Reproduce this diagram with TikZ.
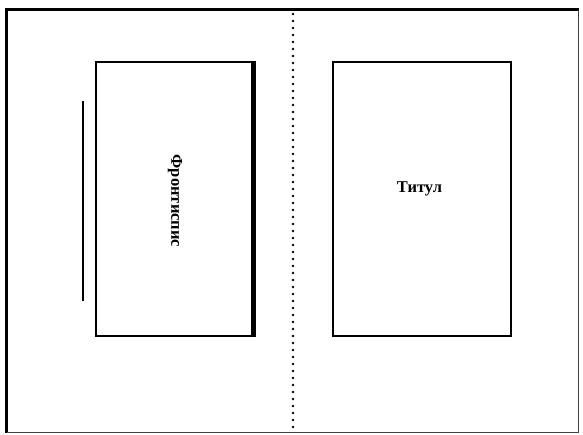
\documentclass[tikz,border=0pt]{standalone}
\usepackage{fontspec}
\setmainfont{Liberation Serif}
\begin{document}
\begin{tikzpicture}[x=1pt,y=-1pt,
  pagebox/.style={draw=black, line width=2.6pt, minimum width=#1, minimum height=274pt, inner sep=0pt},
  frameheavy/.style={line width=3pt, black},
  framelight/.style={line width=1.3pt, black!75},
  lbl/.style={font=\fontsize{16.5}{18}\selectfont\bfseries, inner sep=0pt}]
\useasboundingbox (0,0) rectangle (583,435);
% outer frame
\coordinate (tl) at (6.5,10);
\coordinate (tr) at (578.5,10);
\coordinate (bl) at (6.5,432.5);
\coordinate (br) at (578.5,432.5);
\draw[frameheavy] ([xshift=-1.5pt]tl) -- (tr);
\draw[frameheavy] ([yshift=-1.5pt]tl) -- (bl);
\draw[framelight] (tr) -- (br);
\draw[framelight] (bl) -- (br);
% fold line
\coordinate (ft) at (293,14);
\coordinate (fb) at (293,433);
\draw[line width=2.9pt, line cap=round, dash pattern=on 0pt off 7pt] (ft) -- (fb);
% pages
\node[pagebox=157pt] (front) at (174.5,199) {};
\draw[line width=4.5pt] ([xshift=-0.8pt]front.north east) -- ([xshift=-0.8pt]front.south east);
\node[lbl, rotate=-90] (ftext) at (175,201) {Фронтиспис};
\node[pagebox=178pt] (title) at (422,199) {};
\node[lbl] (ttext) at (419.5,189) {Титул};
% side line
\coordinate (s1) at (83,101);
\coordinate (s2) at (83,301);
\draw[line width=2.2pt] (s1) -- (s2);
\end{tikzpicture}
\end{document}
